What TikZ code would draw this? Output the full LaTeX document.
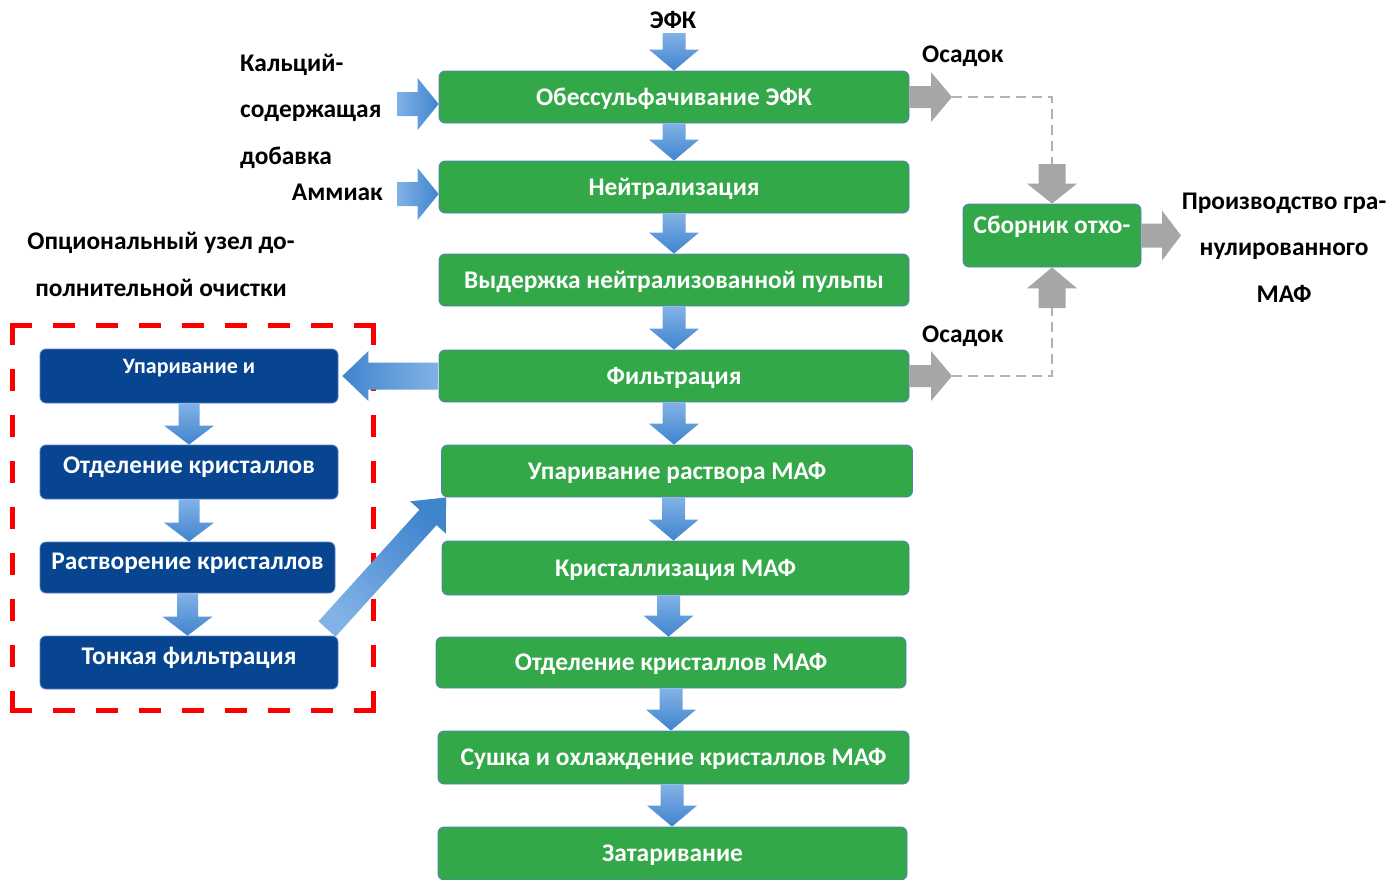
\documentclass[tikz,border=0pt]{standalone}
\usepackage{fontspec}
\setmainfont{Carlito}
\usetikzlibrary{calc}

\definecolor{boxgreen}{RGB}{50,168,72}
\definecolor{boxedge}{RGB}{86,128,196}
\definecolor{navy}{RGB}{8,69,145}
\definecolor{arrowlight}{RGB}{130,178,230}
\definecolor{arrowdark}{RGB}{64,132,206}
\definecolor{flowgray}{RGB}{166,166,166}
\definecolor{dashgray}{RGB}{178,178,178}
\definecolor{optred}{RGB}{250,0,0}

\tikzset{
  shaftw/.store in=\shaftw, headw/.store in=\headw, headl/.store in=\headl,
  shaftw=11.5pt, headw=25pt, headl=21pt,
  % filled block arrow from the start point to the tip
  blockarrow/.style={to path={
    ($(\tikztostart)!\shaftw!90:(\tikztotarget)$)
    -- ($(\tikztotarget)!\headl!(\tikztostart)!\shaftw!90:(\tikztotarget)$)
    -- ($(\tikztotarget)!\headl!(\tikztostart)!\headw!90:(\tikztotarget)$)
    -- (\tikztotarget)
    -- ($(\tikztotarget)!\headl!(\tikztostart)!\headw!-90:(\tikztotarget)$)
    -- ($(\tikztotarget)!\headl!(\tikztostart)!\shaftw!-90:(\tikztotarget)$)
    -- ($(\tikztostart)!\shaftw!-90:(\tikztotarget)$) -- cycle}},
  bluedown/.style={blockarrow, top color=arrowlight, bottom color=arrowdark},
  blueright/.style={blockarrow, left color=arrowlight, right color=arrowdark},
  blueleft/.style={blockarrow, left color=arrowdark, right color=arrowlight},
  grayarrow/.style={blockarrow, fill=flowgray},
  stagebox/.style={draw=boxedge, line width=0.8pt, rounded corners=6pt,
    inner sep=0pt, text=white, font=\fontsize{25.4}{30}\selectfont\bfseries,
    text height=19pt},
  greenbox/.style={stagebox, fill=boxgreen, text depth=3pt},
  navybox/.style={stagebox, fill=navy, text depth=16pt},
  lbl/.style={inner sep=0pt, anchor=base, font=\fontsize{25.4}{30}\selectfont\bfseries},
  wastelink/.style={dashgray, line width=2pt, dash pattern=on 10pt off 6pt},
  optframe/.style={optred, line width=5pt},
}

\begin{document}
\begin{tikzpicture}[x=1pt, y=-1pt]
\fill[white] (0,0) rectangle (1391,879);
\useasboundingbox (0,0) rectangle (1391,879);

% main production line
\node[greenbox, minimum width=470pt, minimum height=52pt] (g1) at (674,97) {Обессульфачивание ЭФК};
\node[greenbox, minimum width=470pt, minimum height=52pt] (g2) at (674,187) {Нейтрализация};
\node[greenbox, minimum width=470pt, minimum height=52pt] (g3) at (674,280) {Выдержка нейтрализованной пульпы};
\node[greenbox, minimum width=470pt, minimum height=52pt] (g4) at (674,376) {Фильтрация};
\node[greenbox, minimum width=471pt, minimum height=52pt] (g5) at (677,471) {Упаривание раствора МАФ};
\node[greenbox, minimum width=467pt, minimum height=54pt] (g6) at (675.5,568) {Кристаллизация МАФ};
\node[greenbox, minimum width=470pt, minimum height=51pt] (g7) at (671,662.5) {Отделение кристаллов МАФ};
\node[greenbox, minimum width=471pt, minimum height=53pt] (g8) at (673.5,757.5) {Сушка и охлаждение кристаллов МАФ};
\node[greenbox, minimum width=469pt, minimum height=53pt] (g9) at (672.5,853.5) {Затаривание};

% waste collector
\node[greenbox, minimum width=178pt, minimum height=63pt, text depth=24pt] (sb) at (1052,235.5) {Сборник отхо-};

% optional purification unit
\node[navybox, minimum width=298pt, minimum height=54pt, text height=16pt, text depth=21pt,
      font=\fontsize{22}{26}\selectfont\bfseries] (o1) at (189,376) {Упаривание и};
\node[navybox, minimum width=298pt, minimum height=54pt] (o2) at (189,472) {Отделение кристаллов};
\node[navybox, minimum width=295pt, minimum height=51pt] (o3) at (187.5,567.5) {Растворение кристаллов};
\node[navybox, minimum width=298pt, minimum height=53pt] (o4) at (189,662.5) {Тонкая фильтрация};

% dashed frame of the optional unit, each side with dashes at both corners
\draw[optframe, dash pattern=on 22pt off 21pt] (9.5,325) -- (375.5,325);
\draw[optframe, dash pattern=on 22pt off 21pt] (9.5,710) -- (375.5,710);
\draw[optframe, dash pattern=on 22pt off 24pt] (12,322.5) -- (12,712.5);
\draw[optframe, dash pattern=on 22pt off 24pt] (373,322.5) -- (373,712.5);

% labels
\node[lbl] (efk) at (673,28) {ЭФК};
\node[lbl, anchor=base west] (ca1) at (240,71) {Кальций-};
\node[lbl, anchor=base west] (ca2) at (240,117.5) {содержащая};
\node[lbl, anchor=base west] (ca3) at (240,164) {добавка};
\node[lbl, anchor=base east] (amm) at (383,200) {Аммиак};
\node[lbl, anchor=base west] (sed1) at (922,62) {Осадок};
\node[lbl, anchor=base west] (sed2) at (922,342) {Осадок};
\node[lbl] (pr1) at (1284,209) {Производство гра-};
\node[lbl] (pr2) at (1284,255.5) {нулированного};
\node[lbl] (pr3) at (1284,302) {МАФ};
\node[lbl] (opt1) at (161,249) {Опциональный узел до-};
\node[lbl] (opt2) at (161,296) {полнительной очистки};

% free ends of the arrows
\coordinate (efkin) at (674,33);
\coordinate (cain) at (397,104);
\coordinate (ammin) at (397,194);
\coordinate (s1) at (952,97);
\coordinate (s2) at (952,376);
\coordinate (sbtop) at (1052,164);
\coordinate (sbbot) at (1052,308);
\coordinate (sbout) at (1181,235.5);
\coordinate (diagstart) at (327,629);

% main line arrows
\path[bluedown] (efkin) to (g1.north);
\path[bluedown] (g1.south) to (g2.north);
\path[bluedown] (g2.south) to (g3.north);
\path[bluedown] (g3.south) to (g4.north);
\path[bluedown] (g4.south) to (g4.south |- g5.north);
\path[bluedown] ([xshift=-3.5pt]g5.south) to ([xshift=-3.5pt]g5.south |- g6.north);
\path[bluedown] ([xshift=-7pt]g6.south) to ([xshift=-7pt]g6.south |- g7.north);
\path[bluedown] (g7.south) to (g7.south |- g8.north);
\path[bluedown] ([xshift=-1.5pt]g8.south) to ([xshift=-1.5pt]g8.south |- g9.north);

% reagent inputs
\path[blueright, shaftw=12pt, headw=26pt] (cain) to (cain -| g1.west);
\path[blueright, shaftw=12pt, headw=26pt] (ammin) to (ammin -| g2.west);

% optional unit arrows
\path[blueleft, shaftw=13.5pt, headl=26pt] (g4.west) to ([xshift=4pt]o1.east);
\path[bluedown, shaftw=10.5pt, headl=19pt] (o1.south) to (o2.north);
\path[bluedown, shaftw=10.5pt, headl=19pt] (o2.south) to (o2.south |- o3.north);
\path[bluedown, shaftw=10.5pt, headl=19pt] (o3.south) to (o3.south |- o4.north);
\path[blockarrow, top color=arrowdark, bottom color=arrowlight, shading angle=-45,
      shaftw=11.5pt, headw=24pt, headl=27pt] (diagstart) to ([xshift=5pt]g5.south west);

% sediment to the waste collector
\path[grayarrow, shaftw=11pt] (g1.east) to (s1);
\path[grayarrow, shaftw=11pt] (g4.east) to (s2);
\draw[wastelink] (s1) -| (sbtop);
\draw[wastelink] (s2) -| (sbbot);
\path[grayarrow, shaftw=13.5pt, headl=20pt] (sbtop) to (sb.north);
\path[grayarrow, shaftw=13.5pt, headl=21pt] (sbbot) to (sb.south);
\path[grayarrow, shaftw=12pt, headl=19pt] (sb.east) to (sbout);
\end{tikzpicture}
\end{document}
